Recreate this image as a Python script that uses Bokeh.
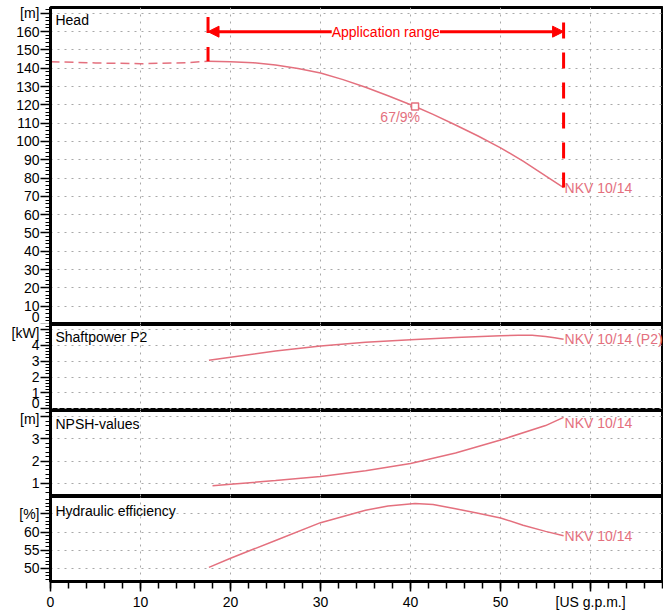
from bokeh.plotting import figure
from bokeh.layouts import column
from bokeh.models import Range1d, SingleIntervalTicker, Label, Arrow, NormalHead, Grid
from bokeh.embed import file_html
from bokeh.resources import INLINE
from bokeh.core.properties import value

# ---------------- data ----------------
# Head curve, extrapolated part (dashed) and application part (solid)
q_head_ext = [0, 5, 10, 15, 17.5]
h_head_ext = [143.6, 142.9, 142.5, 143.0, 143.8]
q_head = [17.5, 20, 22.5, 25, 27.5, 30, 32.5, 35, 37.5, 40.5, 42.5, 45, 47.5, 50, 52.5, 55, 57]
h_head = [143.8, 143.5, 143.0, 141.8, 139.9, 137.4, 133.8, 129.6, 125.0, 119.1, 114.8, 109.0, 103.0, 96.5, 89.3, 81.2, 74.8]

# Best efficiency point marker
bep_q = [40.5]
bep_h = [119.1]
bep_label = ["67/9%"]

# Application range
app_min = 17.5
app_max = 57
app_arrow_head = 160

# Shaft power P2
q_p2 = [17.6, 20, 25, 30, 35, 40, 45, 50, 52, 53.5, 55, 56, 57]
p2 = [3.05, 3.25, 3.63, 3.95, 4.19, 4.35, 4.49, 4.60, 4.63, 4.62, 4.55, 4.47, 4.38]

# NPSH
q_npsh = [18, 20, 25, 30, 35, 40, 45, 50, 55, 57]
npsh = [0.88, 0.95, 1.12, 1.30, 1.56, 1.89, 2.36, 2.95, 3.60, 3.97]

# Hydraulic efficiency
q_eff = [17.6, 20, 25, 30, 35, 37.5, 40.5, 42.5, 45, 47.5, 50, 52.5, 55, 57]
eff = [50.3, 52.8, 57.7, 62.6, 66.0, 67.2, 67.9, 67.6, 66.4, 65.2, 63.9, 61.9, 60.2, 59.0]

curve_name = "NKV 10/14"
curve_name_p2 = "NKV 10/14 (P2)"
x_unit = "[US g.p.m.]"

# ---------------- style ----------------
FONT = "Liberation Sans"
FS = "14px"
CURVE = "#E4707E"
RED = "#FF0000"
GRIDC = "#A8A8A8"
W = 663

x_range = Range1d(0, 68.1)


def make_fig(height, yr, interval, overrides, border_top=0, border_bottom=0, show_x=False):
    p = figure(width=W, height=height, x_range=x_range, y_range=Range1d(*yr),
               output_backend="svg", toolbar_location=None,
               x_axis_location="below" if show_x else None, y_axis_location="left",
               min_border_left=50, min_border_right=0,
               min_border_top=border_top, min_border_bottom=border_bottom)
    p.background_fill_color = "white"
    p.border_fill_color = "white"
    p.outline_line_color = "black"
    p.outline_line_width = 3
    ax = p.yaxis[0]
    ax.ticker = SingleIntervalTicker(interval=interval, num_minor_ticks=5)
    ax.major_label_overrides = overrides
    ax.axis_line_width = 3
    ax.axis_line_color = "black"
    ax.major_tick_out = 10
    ax.major_tick_in = 0
    ax.major_tick_line_width = 1.5
    ax.minor_tick_out = 5
    ax.minor_tick_in = 0
    ax.minor_tick_line_width = 1
    ax.major_label_text_font = FONT
    ax.major_label_text_font_size = FS
    ax.major_label_text_color = "black"
    ax.major_label_standoff = 1
    if len(p.xgrid) == 0:
        p.add_layout(Grid(dimension=0, ticker=SingleIntervalTicker(interval=10)))
    for g in p.xgrid:
        g.ticker = SingleIntervalTicker(interval=10)
    p.grid.grid_line_color = GRIDC
    p.grid.grid_line_dash = "2 5"
    p.grid.grid_line_width = 1
    return p


def title(p, x, y, text):
    p.add_layout(Label(x=x, y=y, text=text, text_font=FONT, text_font_size=FS,
                       text_color="black", text_baseline="middle", text_align="left"))


def end_label(p, x, y, text, baseline="middle"):
    p.text(x=[x], y=[y], text=[text], text_font=value(FONT), text_font_size=value(FS),
           text_color=CURVE, text_align="left", text_baseline=baseline, x_offset=1)


# ---------------- Head ----------------
p1 = make_fig(324, (0, 173.2), 10, {170: "[m]"}, border_top=7)
title(p1, 0.55, 166.6, "Head")
p1.line(q_head_ext, h_head_ext, line_color=CURVE, line_width=1.5, line_dash="9 5")
p1.line(q_head, h_head, line_color=CURVE, line_width=1.5)
p1.segment(x0=[app_min], y0=[168], x1=[app_min], y1=[h_head[0]], line_color=RED,
           line_width=3, line_dash="16 14")
p1.segment(x0=[app_max], y0=[165], x1=[app_max], y1=[h_head[-1]], line_color=RED,
           line_width=3, line_dash="16 14")
p1.add_layout(Arrow(start=NormalHead(size=11, fill_color=RED, line_color=RED, line_width=1),
                    end=NormalHead(size=11, fill_color=RED, line_color=RED, line_width=1),
                    x_start=app_min, y_start=app_arrow_head, x_end=app_max, y_end=app_arrow_head,
                    line_color=RED, line_width=3))
p1.add_layout(Label(x=(app_min + app_max) / 2, y=app_arrow_head, text="Application range",
                    text_font=FONT, text_font_size=FS, text_color=RED,
                    text_align="center", text_baseline="middle",
                    background_fill_color="white"))
p1.scatter(bep_q, bep_h, marker="square", size=7, fill_color="white",
           line_color=CURVE, line_width=1.5)
p1.text(x=bep_q, y=bep_h, text=bep_label, text_font=value(FONT), text_font_size=value(FS),
        text_color=CURVE, text_align="right", text_baseline="top", x_offset=5, y_offset=2)
end_label(p1, q_head[-1], h_head[-1], curve_name)

# ---------------- Shaft power ----------------
p2f = make_fig(86, (-0.1, 5.3), 1, {5: "[kW]"})
title(p2f, 0.55, 4.50, "Shaftpower P2")
p2f.line(q_p2, p2, line_color=CURVE, line_width=1.5)
end_label(p2f, q_p2[-1], p2[-1], curve_name_p2)

# ---------------- NPSH ----------------
p3 = make_fig(86, (0.40, 4.28), 1, {4: "[m]"})
title(p3, 0.55, 3.68, "NPSH-values")
p3.line(q_npsh, npsh, line_color=CURVE, line_width=1.5)
end_label(p3, q_npsh[-1], 3.71, curve_name)

# ---------------- Efficiency ----------------
p4 = make_fig(116, (46.4, 69.8), 5, {65: "[%]"}, border_bottom=29, show_x=True)
title(p4, 0.55, 65.9, "Hydraulic efficiency")
p4.line(q_eff, eff, line_color=CURVE, line_width=1.5)
end_label(p4, q_eff[-1], eff[-1], curve_name)

xa = p4.xaxis[0]
xa.ticker = SingleIntervalTicker(interval=10, num_minor_ticks=5)
xa.major_label_overrides = {60: x_unit}
xa.axis_line_width = 3
xa.major_tick_out = 10
xa.major_tick_in = 0
xa.major_tick_line_width = 1.5
xa.minor_tick_out = 7
xa.minor_tick_in = 0
xa.minor_tick_line_width = 1.5
xa.major_label_text_font = FONT
xa.major_label_text_font_size = FS
xa.major_label_text_color = "black"
xa.major_label_standoff = 2

layout = column(p1, p2f, p3, p4, spacing=0)
open("out.html", "w").write(file_html(layout, INLINE))
